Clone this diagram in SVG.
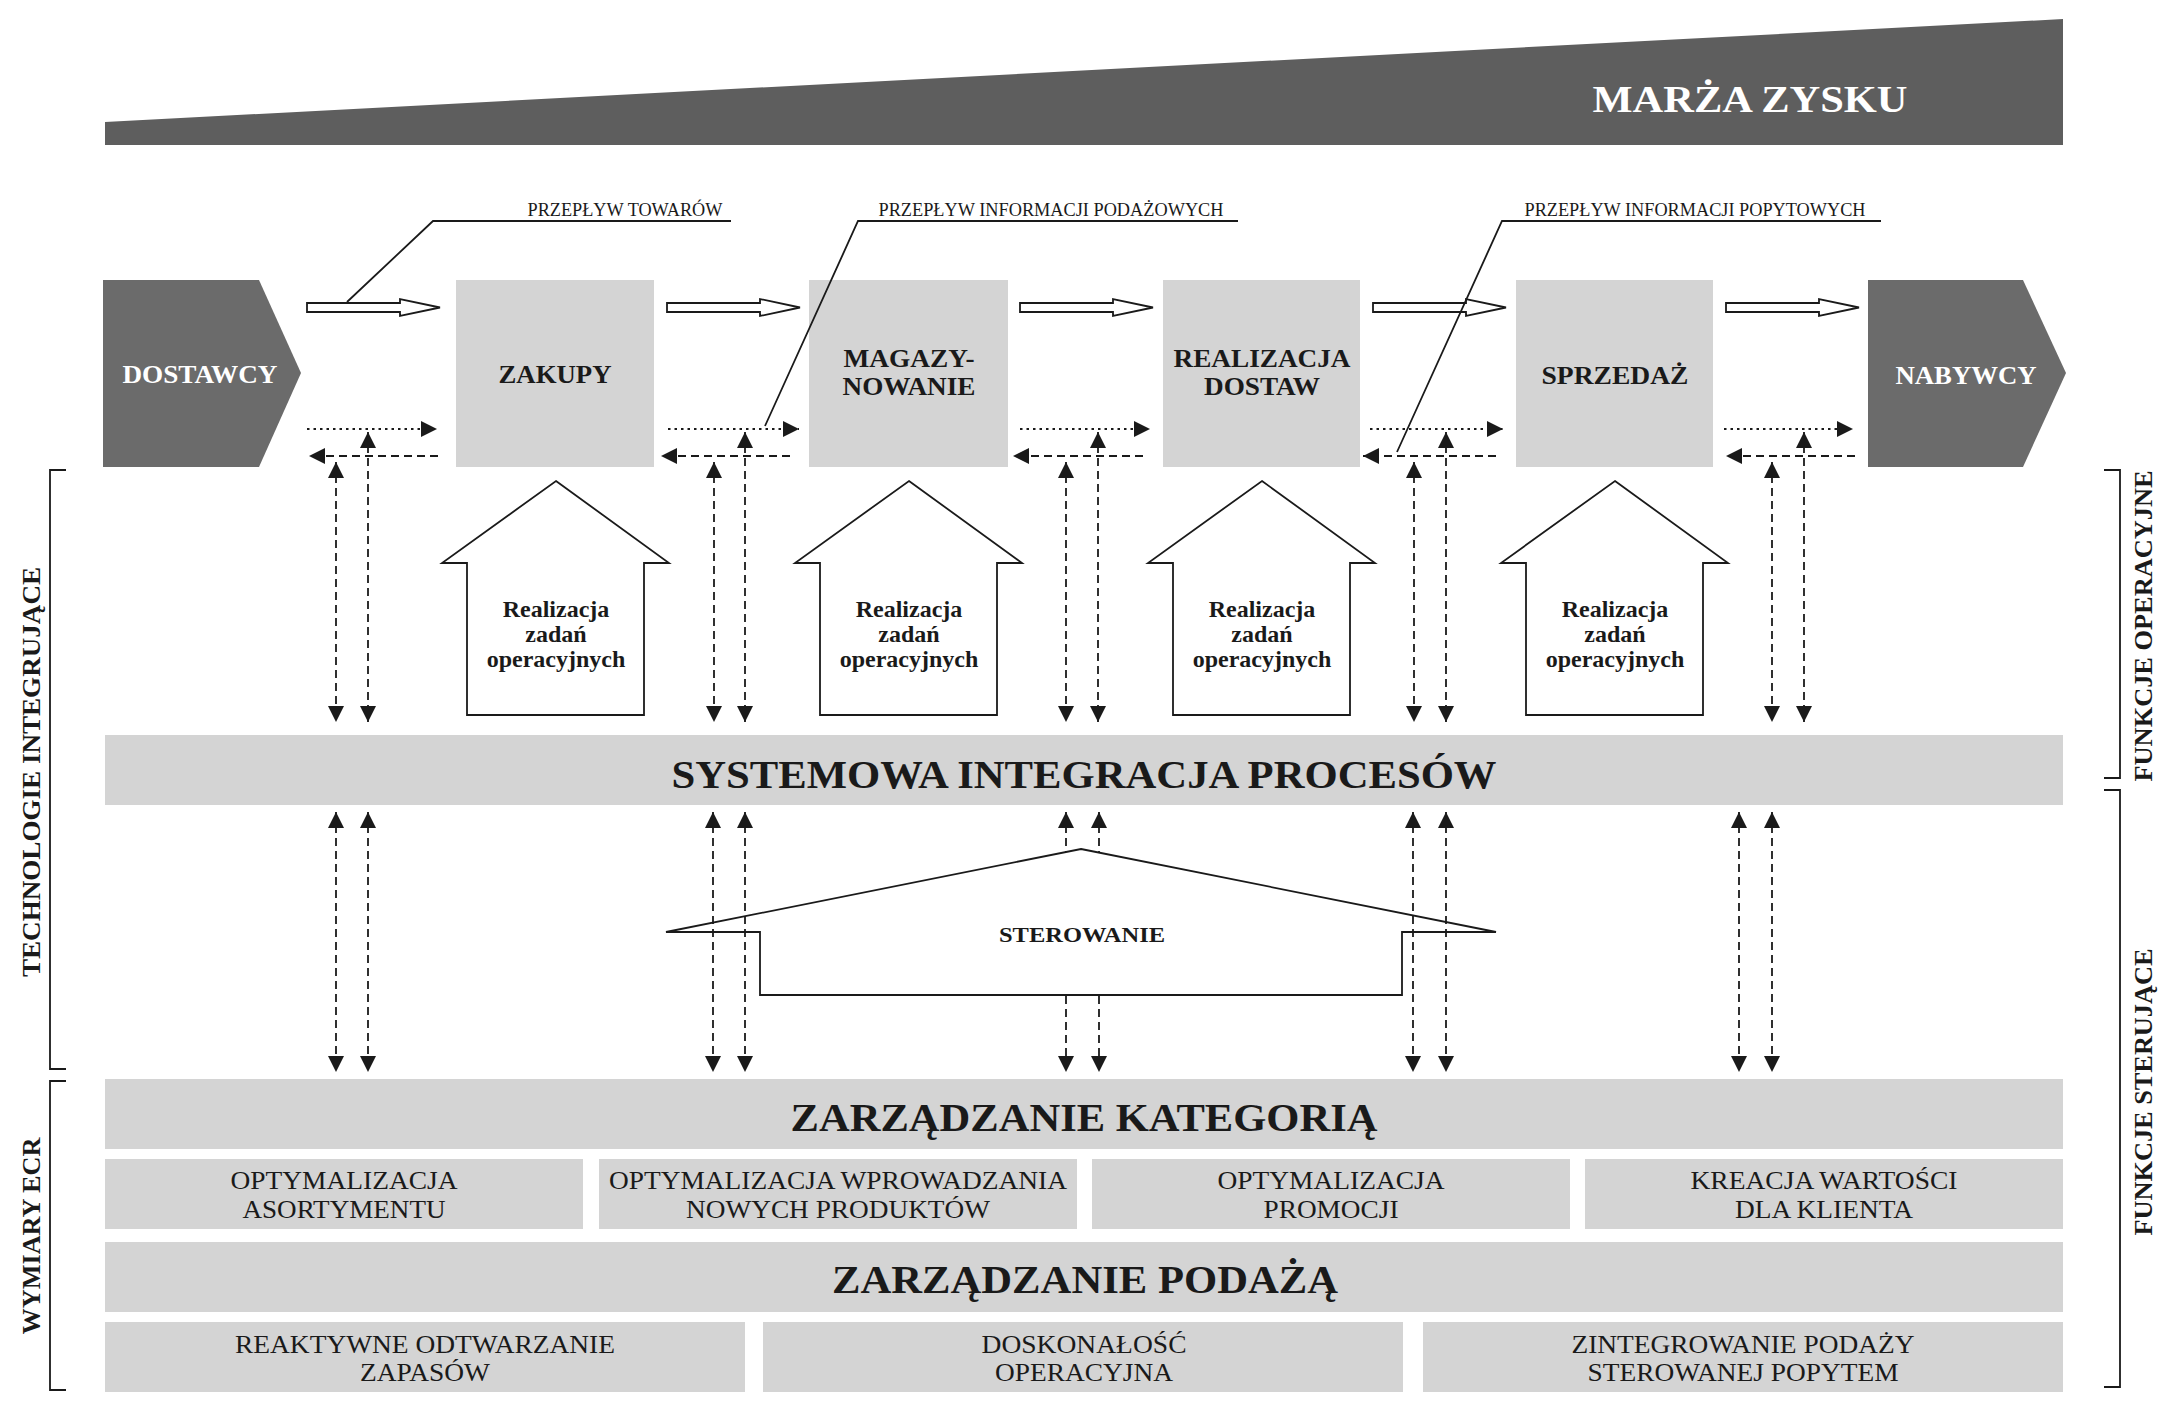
<svg xmlns="http://www.w3.org/2000/svg" width="2168" height="1422" viewBox="0 0 2168 1422">
<defs>
<style>
text{font-family:"Liberation Serif","Times New Roman",serif;fill:#1a1a1a}
.b{font-weight:bold}
.w{fill:#ffffff}
.mid{text-anchor:middle}
.lt{fill:#d4d4d4}
.dk{fill:#6b6b6b}
.ln{fill:none;stroke:#1a1a1a;stroke-width:1.8}
.hol{fill:#ffffff;stroke:#1a1a1a;stroke-width:1.8}
.dash{fill:none;stroke:#1a1a1a;stroke-width:1.8;stroke-dasharray:8 5}
.dot{fill:none;stroke:#1a1a1a;stroke-width:1.8;stroke-dasharray:2.5 4}
.lab{font-size:18px}
.big{font-size:41px}
.box{font-size:26px}
.hs{font-size:24px}
.sm{font-size:26px}
.side{font-size:26px}
</style>
<marker id="ah" viewBox="0 0 16 16" refX="16" refY="8" markerWidth="16" markerHeight="16" markerUnits="userSpaceOnUse" orient="auto-start-reverse">
<path d="M0,0 L16,8 L0,16 z" fill="#1a1a1a"/>
</marker>
</defs>
<rect width="2168" height="1422" fill="#ffffff"/>

<g id="marza">
<polygon points="105,145 105,122 2063,19 2063,145" fill="#5e5e5e"/>
<text class="b w mid" x="1750" y="112" font-size="38" textLength="315" lengthAdjust="spacingAndGlyphs">MARŻA ZYSKU</text>
</g>

<g id="dostawcy">
<polygon class="dk" points="103,280 259,280 301,373 259,467 103,467"/>
<text class="b w mid box" x="200" y="383" textLength="155" lengthAdjust="spacingAndGlyphs">DOSTAWCY</text>
</g>
<g id="zakupy">
<rect class="lt" x="456" y="280" width="198" height="187"/>
<text class="b mid box" x="555" y="383" textLength="113" lengthAdjust="spacingAndGlyphs">ZAKUPY</text>
</g>
<g id="magazynowanie">
<rect class="lt" x="809" y="280" width="199" height="187"/>
<text class="b mid box" x="909" y="367" textLength="131" lengthAdjust="spacingAndGlyphs">MAGAZY-</text>
<text class="b mid box" x="909" y="395" textLength="133" lengthAdjust="spacingAndGlyphs">NOWANIE</text>
</g>
<g id="realizacja-dostaw">
<rect class="lt" x="1163" y="280" width="197" height="187"/>
<text class="b mid box" x="1262" y="367" textLength="177" lengthAdjust="spacingAndGlyphs">REALIZACJA</text>
<text class="b mid box" x="1262" y="395" textLength="116" lengthAdjust="spacingAndGlyphs">DOSTAW</text>
</g>
<g id="sprzedaz">
<rect class="lt" x="1516" y="280" width="197" height="187"/>
<text class="b mid box" x="1615" y="384" textLength="147" lengthAdjust="spacingAndGlyphs">SPRZEDAŻ</text>
</g>
<g id="nabywcy">
<polygon class="dk" points="1868,280 2023,280 2066,373 2023,467 1868,467"/>
<text class="b w mid box" x="1966" y="384" textLength="141" lengthAdjust="spacingAndGlyphs">NABYWCY</text>
</g>

<g id="houses">
<g id="house-1">
<polygon class="hol" points="556,481 669,563 644,563 644,715 467,715 467,563 442,563"/>
<text class="b mid hs" x="556" y="617">Realizacja</text>
<text class="b mid hs" x="556" y="642">zadań</text>
<text class="b mid hs" x="556" y="667">operacyjnych</text>
</g>
<g id="house-2">
<polygon class="hol" points="909,481 1022,563 997,563 997,715 820,715 820,563 795,563"/>
<text class="b mid hs" x="909" y="617">Realizacja</text>
<text class="b mid hs" x="909" y="642">zadań</text>
<text class="b mid hs" x="909" y="667">operacyjnych</text>
</g>
<g id="house-3">
<polygon class="hol" points="1262,481 1375,563 1350,563 1350,715 1173,715 1173,563 1148,563"/>
<text class="b mid hs" x="1262" y="617">Realizacja</text>
<text class="b mid hs" x="1262" y="642">zadań</text>
<text class="b mid hs" x="1262" y="667">operacyjnych</text>
</g>
<g id="house-4">
<polygon class="hol" points="1615,481 1728,563 1703,563 1703,715 1526,715 1526,563 1501,563"/>
<text class="b mid hs" x="1615" y="617">Realizacja</text>
<text class="b mid hs" x="1615" y="642">zadań</text>
<text class="b mid hs" x="1615" y="667">operacyjnych</text>
</g>
</g>

<g id="systemowa">
<rect class="lt" x="105" y="735" width="1958" height="70"/>
<text class="b mid big" x="1084" y="788" font-size="40" textLength="825" lengthAdjust="spacingAndGlyphs">SYSTEMOWA INTEGRACJA PROCESÓW</text>
</g>

<g id="sterowanie">
<polygon class="hol" points="1081,849 1496,932 1402,932 1402,995 760,995 760,932 666,932"/>
<text class="b mid" x="1082" y="942" font-size="22" textLength="166" lengthAdjust="spacingAndGlyphs">STEROWANIE</text>
</g>

<g id="kategoria">
<rect class="lt" x="105" y="1079" width="1958" height="70"/>
<text class="b mid big" x="1084" y="1131" textLength="587" lengthAdjust="spacingAndGlyphs">ZARZĄDZANIE KATEGORIĄ</text>
</g>
<g id="opt-asortymentu">
<rect class="lt" x="105" y="1159" width="478" height="70"/>
<text class="mid sm" x="344" y="1189" textLength="227" lengthAdjust="spacingAndGlyphs">OPTYMALIZACJA</text>
<text class="mid sm" x="344" y="1218" textLength="203" lengthAdjust="spacingAndGlyphs">ASORTYMENTU</text>
</g>
<g id="opt-nowych">
<rect class="lt" x="599" y="1159" width="478" height="70"/>
<text class="mid sm" x="838" y="1189" textLength="458" lengthAdjust="spacingAndGlyphs">OPTYMALIZACJA WPROWADZANIA</text>
<text class="mid sm" x="838" y="1218" textLength="304" lengthAdjust="spacingAndGlyphs">NOWYCH PRODUKTÓW</text>
</g>
<g id="opt-promocji">
<rect class="lt" x="1092" y="1159" width="478" height="70"/>
<text class="mid sm" x="1331" y="1189" textLength="227" lengthAdjust="spacingAndGlyphs">OPTYMALIZACJA</text>
<text class="mid sm" x="1331" y="1218" textLength="135" lengthAdjust="spacingAndGlyphs">PROMOCJI</text>
</g>
<g id="kreacja">
<rect class="lt" x="1585" y="1159" width="478" height="70"/>
<text class="mid sm" x="1824" y="1189" textLength="267" lengthAdjust="spacingAndGlyphs">KREACJA WARTOŚCI</text>
<text class="mid sm" x="1824" y="1218" textLength="178" lengthAdjust="spacingAndGlyphs">DLA KLIENTA</text>
</g>

<g id="podaz">
<rect class="lt" x="105" y="1242" width="1958" height="70"/>
<text class="b mid big" x="1085" y="1293" textLength="506" lengthAdjust="spacingAndGlyphs">ZARZĄDZANIE PODAŻĄ</text>
</g>
<g id="reaktywne">
<rect class="lt" x="105" y="1322" width="640" height="70"/>
<text class="mid sm" x="425" y="1353" textLength="380" lengthAdjust="spacingAndGlyphs">REAKTYWNE ODTWARZANIE</text>
<text class="mid sm" x="425" y="1381" textLength="130" lengthAdjust="spacingAndGlyphs">ZAPASÓW</text>
</g>
<g id="doskonalosc">
<rect class="lt" x="763" y="1322" width="640" height="70"/>
<text class="mid sm" x="1084" y="1353" textLength="205" lengthAdjust="spacingAndGlyphs">DOSKONAŁOŚĆ</text>
<text class="mid sm" x="1084" y="1381" textLength="178" lengthAdjust="spacingAndGlyphs">OPERACYJNA</text>
</g>
<g id="zintegrowanie">
<rect class="lt" x="1423" y="1322" width="640" height="70"/>
<text class="mid sm" x="1743" y="1353" textLength="343" lengthAdjust="spacingAndGlyphs">ZINTEGROWANIE PODAŻY</text>
<text class="mid sm" x="1743" y="1381" textLength="311" lengthAdjust="spacingAndGlyphs">STEROWANEJ POPYTEM</text>
</g>

<g id="side-labels">
<polyline class="ln" points="66,470 50,470 50,1069 66,1069"/>
<polyline class="ln" points="66,1081 50,1081 50,1390 66,1390"/>
<polyline class="ln" points="2104,470 2120,470 2120,778 2104,778"/>
<polyline class="ln" points="2104,790 2120,790 2120,1387 2104,1387"/>
<text class="b mid side" transform="translate(40,772) rotate(-90)" textLength="410" lengthAdjust="spacingAndGlyphs">TECHNOLOGIE  INTEGRUJĄCE</text>
<text class="b mid side" transform="translate(40,1236) rotate(-90)" textLength="197" lengthAdjust="spacingAndGlyphs">WYMIARY ECR</text>
<text class="b mid side" transform="translate(2152,626) rotate(-90)" textLength="311" lengthAdjust="spacingAndGlyphs">FUNKCJE OPERACYJNE</text>
<text class="b mid side" transform="translate(2152,1092) rotate(-90)" textLength="287" lengthAdjust="spacingAndGlyphs">FUNKCJE STERUJĄCE</text>
</g>

<g id="connectors">
<!-- hollow goods-flow arrows -->
<polygon class="hol" points="307,303 400,303 400,299 440,307.5 400,316 400,312 307,312"/>
<polygon class="hol" points="667,303 760,303 760,299 800,307.5 760,316 760,312 667,312"/>
<polygon class="hol" points="1020,303 1113,303 1113,299 1153,307.5 1113,316 1113,312 1020,312"/>
<polygon class="hol" points="1373,303 1466,303 1466,299 1506,307.5 1466,316 1466,312 1373,312"/>
<polygon class="hol" points="1726,303 1819,303 1819,299 1859,307.5 1819,316 1819,312 1726,312"/>

<!-- dotted rightward / dashed leftward info flows -->
<line class="dot" x1="307" y1="429" x2="437" y2="429" marker-end="url(#ah)"/>
<line class="dash" x1="438" y1="456" x2="309" y2="456" marker-end="url(#ah)"/>
<line class="dot" x1="668" y1="429" x2="799" y2="429" marker-end="url(#ah)"/>
<line class="dash" x1="790" y1="456" x2="661" y2="456" marker-end="url(#ah)"/>
<line class="dot" x1="1020" y1="429" x2="1150" y2="429" marker-end="url(#ah)"/>
<line class="dash" x1="1143" y1="456" x2="1013" y2="456" marker-end="url(#ah)"/>
<line class="dot" x1="1370" y1="429" x2="1503" y2="429" marker-end="url(#ah)"/>
<line class="dash" x1="1496" y1="456" x2="1363" y2="456" marker-end="url(#ah)"/>
<line class="dot" x1="1724" y1="429" x2="1853" y2="429" marker-end="url(#ah)"/>
<line class="dash" x1="1855" y1="456" x2="1726" y2="456" marker-end="url(#ah)"/>

<!-- upper vertical double arrows -->
<line class="dash" x1="336" y1="462" x2="336" y2="722" marker-start="url(#ah)" marker-end="url(#ah)"/>
<line class="dash" x1="368" y1="432" x2="368" y2="722" marker-start="url(#ah)" marker-end="url(#ah)"/>
<line class="dash" x1="714" y1="462" x2="714" y2="722" marker-start="url(#ah)" marker-end="url(#ah)"/>
<line class="dash" x1="745" y1="432" x2="745" y2="722" marker-start="url(#ah)" marker-end="url(#ah)"/>
<line class="dash" x1="1066" y1="462" x2="1066" y2="722" marker-start="url(#ah)" marker-end="url(#ah)"/>
<line class="dash" x1="1098" y1="432" x2="1098" y2="722" marker-start="url(#ah)" marker-end="url(#ah)"/>
<line class="dash" x1="1414" y1="462" x2="1414" y2="722" marker-start="url(#ah)" marker-end="url(#ah)"/>
<line class="dash" x1="1446" y1="432" x2="1446" y2="722" marker-start="url(#ah)" marker-end="url(#ah)"/>
<line class="dash" x1="1772" y1="462" x2="1772" y2="722" marker-start="url(#ah)" marker-end="url(#ah)"/>
<line class="dash" x1="1804" y1="432" x2="1804" y2="722" marker-start="url(#ah)" marker-end="url(#ah)"/>

<!-- lower vertical double arrows -->
<line class="dash" x1="336" y1="812" x2="336" y2="1072" marker-start="url(#ah)" marker-end="url(#ah)"/>
<line class="dash" x1="368" y1="812" x2="368" y2="1072" marker-start="url(#ah)" marker-end="url(#ah)"/>
<line class="dash" x1="713" y1="812" x2="713" y2="1072" marker-start="url(#ah)" marker-end="url(#ah)"/>
<line class="dash" x1="745" y1="812" x2="745" y2="1072" marker-start="url(#ah)" marker-end="url(#ah)"/>
<line class="dash" x1="1066" y1="812" x2="1066" y2="852" marker-start="url(#ah)"/>
<line class="dash" x1="1099" y1="812" x2="1099" y2="852" marker-start="url(#ah)"/>
<line class="dash" x1="1066" y1="996" x2="1066" y2="1072" marker-end="url(#ah)"/>
<line class="dash" x1="1099" y1="996" x2="1099" y2="1072" marker-end="url(#ah)"/>
<line class="dash" x1="1413" y1="812" x2="1413" y2="1072" marker-start="url(#ah)" marker-end="url(#ah)"/>
<line class="dash" x1="1446" y1="812" x2="1446" y2="1072" marker-start="url(#ah)" marker-end="url(#ah)"/>
<line class="dash" x1="1739" y1="812" x2="1739" y2="1072" marker-start="url(#ah)" marker-end="url(#ah)"/>
<line class="dash" x1="1772" y1="812" x2="1772" y2="1072" marker-start="url(#ah)" marker-end="url(#ah)"/>

<!-- leader lines with labels -->
<polyline class="ln" points="347,302 433,221 731,221"/>
<polyline class="ln" points="765,426 858,221 1238,221"/>
<polyline class="ln" points="1397,452 1502,221 1881,221"/>
</g>

<g id="flow-labels">
<text class="mid lab" x="625" y="216" textLength="195" lengthAdjust="spacingAndGlyphs">PRZEPŁYW TOWARÓW</text>
<text class="mid lab" x="1051" y="216" textLength="345" lengthAdjust="spacingAndGlyphs">PRZEPŁYW INFORMACJI PODAŻOWYCH</text>
<text class="mid lab" x="1695" y="216" textLength="341" lengthAdjust="spacingAndGlyphs">PRZEPŁYW INFORMACJI POPYTOWYCH</text>
</g>
</svg>
